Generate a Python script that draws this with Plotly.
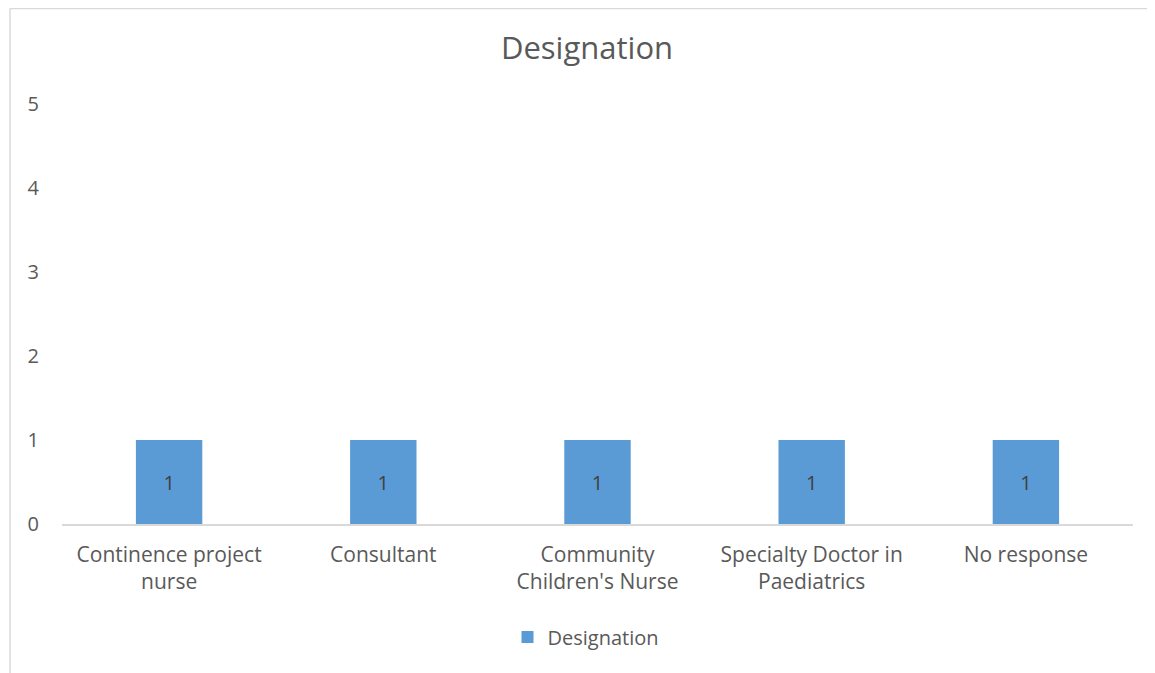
import plotly.graph_objects as go

categories = ["Continence project<br>nurse", "Consultant", "Community<br>Children's Nurse",
              "Specialty Doctor in<br>Paediatrics", "No response"]
values = [1, 1, 1, 1, 1]
series_name = "Designation"
y_ticks = [0, 1, 2, 3, 4, 5]

# page is offset by 8px body margin; coordinates below are figure coords
W, H = 1147, 665
L, T = 54, 96
R = W - 1125
B = H - 516
pw = W - L - R
ph = H - T - B

fig = go.Figure()
fig.add_trace(go.Bar(
    x=categories, y=values, name=series_name,
    marker=dict(color="#5b9bd5", line=dict(width=0)),
    text=[str(v) for v in values], textposition="inside", insidetextanchor="middle",
    textfont=dict(color="#404040", size=20, family="Open Sans"),
    width=0.31,
))

border = dict(color="#d9d9d9", width=1.5)
fig.update_layout(
    width=W, height=H,
    margin=dict(l=L, r=R, t=T, b=B),
    paper_bgcolor="white", plot_bgcolor="white",
    font=dict(family="Open Sans", color="#595959"),
    title=dict(text="Designation", x=579 / W, xanchor="center", y=1 - 40 / H, yanchor="middle",
               font=dict(size=31, color="#595959", family="Open Sans")),
    showlegend=True,
    legend=dict(orientation="h", x=(578 - L) / pw, xanchor="center", y=(516 - 629) / ph, yanchor="middle",
                font=dict(size=20, color="#595959"), itemwidth=30),
    xaxis=dict(showline=True, linecolor="#d9d9d9", linewidth=1.5, showgrid=False,
               tickfont=dict(size=21, color="#595959"), ticks="", ticklabelstandoff=11),
    yaxis=dict(range=[0, 5], tickvals=y_ticks, showgrid=False, zeroline=False, showline=False,
               tickfont=dict(size=20, color="#595959"), ticklabelstandoff=22),
    shapes=[
        dict(type="line", xref="paper", yref="paper",
             x0=(2 - L) / pw, x1=(2 - L) / pw, y0=(516 - H - 20) / ph, y1=(516 - 0.5) / ph, line=border),
        dict(type="line", xref="paper", yref="paper",
             x0=(2 - L) / pw, x1=(W + 40 - L) / pw, y0=(516 - 0.5) / ph, y1=(516 - 0.5) / ph, line=border),
    ],
)

fig.write_html("out.html")
